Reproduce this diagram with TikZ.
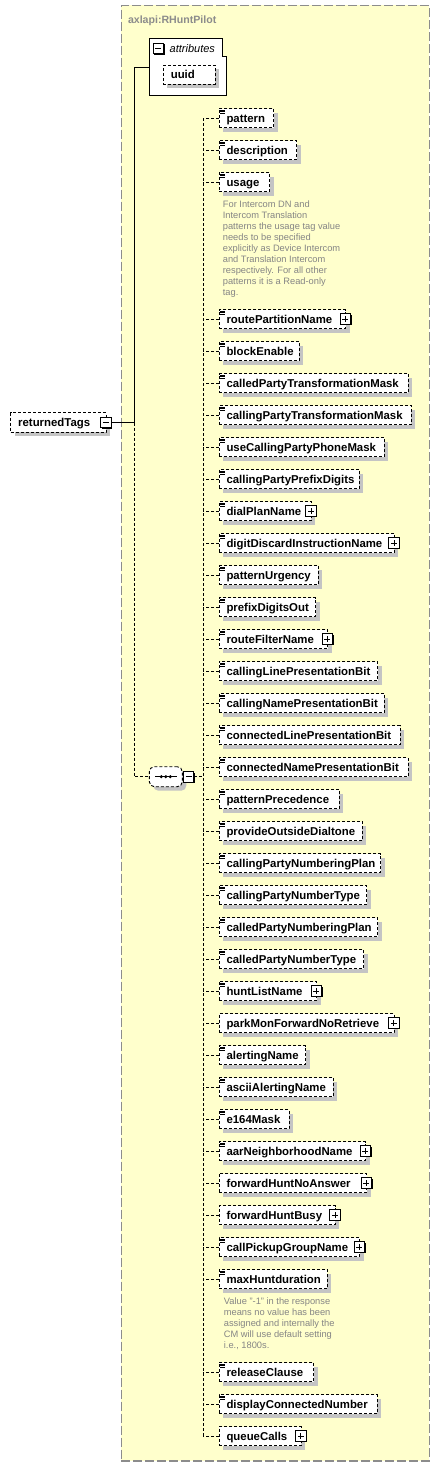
\documentclass[tikz,border=0pt]{standalone}
\usepackage{fontspec}
\setmainfont{Liberation Sans}
\usetikzlibrary{shadows,calc}
\definecolor{yellowbg}{HTML}{FFFFCC}
\definecolor{bordergray}{HTML}{8C8C8C}
\definecolor{titlegray}{HTML}{8C8C8C}
\definecolor{notegray}{HTML}{858585}
\definecolor{shgray}{HTML}{C4C4C4}
\newcommand\elf{\fontsize{11.4}{13}\selectfont\bfseries}
\newcommand\elem[6]{%
  \pgfmathsetmacro\wt{#4-234}%
  \node[elembox] (#1) at (219,#3) {\makebox[\wt pt][l]{#2}};
  \ifnum#5=1 \draw[iconline] ([shift={(1,1.6)}]#1.north west) -- ++(4.6,0) ([shift={(1,3)}]#1.north west) -- ++(4.6,0) ([shift={(1,4.4)}]#1.north west) -- ++(4.6,0);\fi
  \ifnum#6=1 \node[plusbox] (#1-p) at ([xshift=-0.3pt]#1.east) {};\fi
  \draw[conn] (#1.west) -- (#1.west -| col);
}
\tikzset{
  conn/.style={line width=0.9pt, dash pattern=on 3pt off 2pt},
  solidconn/.style={line width=0.9pt},
  elembox/.style={draw, line width=0.9pt, dash pattern=on 3pt off 2pt, fill=white,
    anchor=west, inner xsep=7.5pt, inner ysep=0pt, outer sep=0pt,
    minimum height=19pt, text height=9.2pt, text depth=1.2pt, font=\elf,
    drop shadow={shadow xshift=4pt, shadow yshift=-4pt, fill=shgray, opacity=1}},
  iconline/.style={line width=0.7pt, solid},
  sqbox/.style={draw, solid, fill=white, line width=0.9pt, minimum size=10.5pt,
    inner sep=0pt, outer sep=0pt,
    drop shadow={shadow xshift=1.1pt, shadow yshift=-1.1pt, fill=black, opacity=1}},
  plusbox/.style={sqbox, path picture={
    \draw[line width=0.9pt] ([xshift=2.3pt]path picture bounding box.west) -- ([xshift=-2.3pt]path picture bounding box.east);
    \draw[line width=0.9pt] ([yshift=-2.3pt]path picture bounding box.north) -- ([yshift=2.3pt]path picture bounding box.south);}},
  minusbox/.style={sqbox, path picture={
    \draw[line width=0.9pt] ([xshift=2.3pt]path picture bounding box.west) -- ([xshift=-2.3pt]path picture bounding box.east);}},
  seqbox/.style={draw, line width=0.9pt, dash pattern=on 3pt off 2pt, fill=white,
    rounded corners=5pt, minimum width=33pt, minimum height=20pt, inner sep=0pt, outer sep=0pt,
    drop shadow={shadow xshift=4pt, shadow yshift=-4pt, fill=shgray, opacity=1},
    path picture={
      \draw[line width=0.9pt, solid, black] ([xshift=-10.5pt]path picture bounding box.center) -- ([xshift=11pt]path picture bounding box.center);
      \foreach \dx in {-4.5,0,4.5}{\fill[black] ([xshift=\dx pt]path picture bounding box.center) circle (1.7pt);}
    }},
  note/.style={anchor=north west, inner sep=0pt, align=left, text=notegray,
    font=\fontsize{9.3}{11}\selectfont}
}
\begin{document}
\begin{tikzpicture}[x=1pt,y=-1pt]
\useasboundingbox (0,0) rectangle (440,1467);
% container
\node[draw=bordergray, line width=1.2pt, dash pattern=on 9pt off 3pt, fill=yellowbg,
  minimum width=308pt, minimum height=1455.7pt, anchor=north west, inner sep=0pt, outer sep=0pt]
  (cont) at (121.3,5.3) {};
\node[anchor=base west, inner sep=0pt, font=\fontsize{10.6}{12}\selectfont\bfseries, text=titlegray]
  (title) at (127.8,23.3) {axlapi:RHuntPilot};
% attributes
\node[minimum width=77.7pt, minimum height=57.4pt, inner sep=0pt, outer sep=0pt] (attr) at (187.85,67) {};
\draw[line width=0.9pt, fill=white] (attr.north west) -- ([xshift=-4.4pt]attr.north east) -- ++(0,18) -- ++(4.4,0) -- (attr.south east) -- (attr.south west) -- cycle;
\node[minusbox] (attr-m) at (158.3,48.3) {};
\node[anchor=base west, inner sep=0pt, font=\fontsize{11}{13}\selectfont\itshape] (attr-l) at (169.5,52.2) {attributes};
\node[elembox] (uuid) at (163.3,74.8) {\makebox[36.7pt][l]{uuid}};
% root
\node[elembox, minimum height=19.6pt] (rt) at (10.7,422.5) {\makebox[80.3pt][l]{returnedTags}};
\node[minusbox] (rt-m) at ([xshift=-0.3pt]rt.east) {};
\coordinate (J1) at (134.3,422.5);
\draw[solidconn] (rt-m.east) -- (J1) |- (attr.west);
% sequence
\node[seqbox] (seq) at (165.8,776.7) {};
\node[minusbox, anchor=west] (seq-m) at ([xshift=1pt]seq.east) {};
\draw[conn] (J1) |- (seq.west);
\coordinate (col) at (203,0);
\draw[conn] (seq-m.east) -- (seq-m.east -| col);
\draw[conn] (203,118) -- (203,1436);
% children
\elem{pattern}{pattern}{118}{273.7}{1}{0}
\elem{description}{description}{150}{296.7}{1}{0}
\elem{usage}{usage}{182}{269.7}{1}{0}
\node[note] (usagenote) at (222.7,200.2) {For Intercom DN and\\Intercom Translation\\patterns the usage tag value\\needs to be specified\\explicitly as Device Intercom\\and Translation Intercom\\respectively. For all other\\patterns it is a Read-only\\tag.};
\elem{routePartitionName}{routePartitionName}{319}{345.7}{1}{1}
\elem{blockEnable}{blockEnable}{351}{299.3}{1}{0}
\elem{calledPTM}{calledPartyTransformationMask}{383}{408.3}{1}{0}
\elem{callingPTM}{callingPartyTransformationMask}{415}{411.3}{1}{0}
\elem{useCPPM}{useCallingPartyPhoneMask}{447}{384.3}{1}{0}
\elem{callingPPD}{callingPartyPrefixDigits}{479}{359.3}{1}{0}
\elem{dialPlanName}{dialPlanName}{511}{311.3}{1}{1}
\elem{digitDIN}{digitDiscardInstructionName}{543}{394.3}{1}{1}
\elem{patternUrgency}{patternUrgency}{575}{318.3}{1}{0}
\elem{prefixDigitsOut}{prefixDigitsOut}{607}{315.7}{1}{0}
\elem{routeFilterName}{routeFilterName}{639}{327.7}{1}{1}
\elem{callingLPB}{callingLinePresentationBit}{671}{377.7}{1}{0}
\elem{callingNPB}{callingNamePresentationBit}{703}{384.3}{1}{0}
\elem{connectedLPB}{connectedLinePresentationBit}{735}{400}{1}{0}
\elem{connectedNPB}{connectedNamePresentationBit}{767}{408}{1}{0}
\elem{patternPrecedence}{patternPrecedence}{799}{339.3}{1}{0}
\elem{provideOD}{provideOutsideDialtone}{831}{362.3}{1}{0}
\elem{callingPNP}{callingPartyNumberingPlan}{863}{380.7}{1}{0}
\elem{callingPNT}{callingPartyNumberType}{895}{366.7}{1}{0}
\elem{calledPNP}{calledPartyNumberingPlan}{927}{377.7}{1}{0}
\elem{calledPNT}{calledPartyNumberType}{959}{363.7}{1}{0}
\elem{huntListName}{huntListName}{991}{316.7}{1}{1}
\elem{parkMFNR}{parkMonForwardNoRetrieve}{1023}{394}{0}{1}
\elem{alertingName}{alertingName}{1055}{305.7}{1}{0}
\elem{asciiAlertingName}{asciiAlertingName}{1087}{333.3}{1}{0}
\elem{e164Mask}{e164Mask}{1119}{289}{1}{0}
\elem{aarNN}{aarNeighborhoodName}{1151}{365.7}{1}{1}
\elem{forwardHNA}{forwardHuntNoAnswer}{1183}{366.7}{0}{1}
\elem{forwardHB}{forwardHuntBusy}{1215}{335.3}{0}{1}
\elem{callPGN}{callPickupGroupName}{1247}{359.5}{1}{1}
\elem{maxHuntduration}{maxHuntduration}{1279}{327.3}{1}{0}
\node[note] (maxnote) at (223.7,1297.2) {Value "-1" in the response\\means no value has been\\assigned and internally the\\CM will use default setting\\i.e., 1800s.};
\elem{releaseClause}{releaseClause}{1372}{313.7}{1}{0}
\elem{displayCN}{displayConnectedNumber}{1404}{377}{1}{0}
\elem{queueCalls}{queueCalls}{1436}{301}{0}{1}
\end{tikzpicture}
\end{document}
